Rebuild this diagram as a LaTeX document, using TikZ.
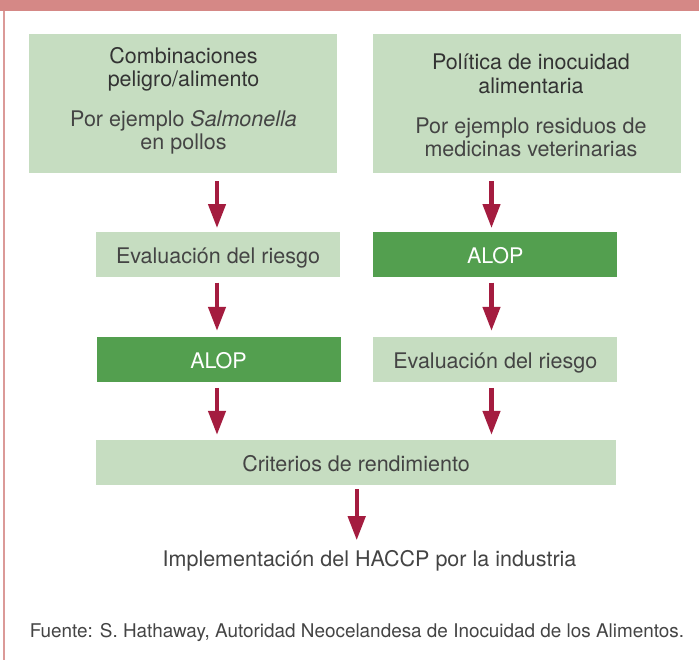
\documentclass[tikz,border=0pt]{standalone}
\usepackage{fontspec}
\setmainfont{TeX Gyre Heros}
\usetikzlibrary{arrows.meta,calc}
\definecolor{band}{HTML}{D58886}
\definecolor{lgreen}{HTML}{C6DDC1}
\definecolor{dgreen}{HTML}{539F4F}
\definecolor{arrowred}{HTML}{A41C3F}
\definecolor{txtgray}{HTML}{444444}
\definecolor{titlegray}{HTML}{333333}
\tikzset{
  lbox/.style={fill=lgreen, draw=none, inner sep=0pt},
  dbox/.style={fill=dgreen, draw=none, inner sep=0pt, text=white},
  rowbox/.style={minimum width=244pt, minimum height=44.5pt, text height=19pt, text depth=1pt, font=\fontsize{21.5}{25}\selectfont},
  txt/.style={anchor=base, inner sep=0pt, text=txtgray, font=\fontsize{21.5}{25}\selectfont},
  ttl/.style={txt, text=titlegray},
  arr/.style={draw=arrowred, line width=4.3pt, -{Triangle[width=17pt,length=24pt]}},
}
\begin{document}
\begin{tikzpicture}[x=1pt,y=-1pt]
\useasboundingbox (0,0) rectangle (699,660);
\fill[white] (0,0) rectangle (699,660);
% frame
\fill[band] (0,0) rectangle (699,11);
\fill[band!85!white] (2.8,11) rectangle (5,660);

% top boxes
\node[lbox, minimum width=308pt, minimum height=138.7pt] (b1) at (183,103.35) {};
\node[lbox, minimum width=308pt, minimum height=138.7pt] (b2) at (527,103.35) {};
\node[ttl] (b1t1) at (183.5,63.5) {Combinaciones};
\node[ttl] (b1t2) at (183.5,86.5) {peligro/alimento};
\node[txt] (b1t3) at (183.5,127) {Por ejemplo \textit{Salmonella}};
\node[txt] (b1t4) at (183.5,150) {en pollos};
\node[ttl] (b2t1) at (531,70) {Política de inocuidad};
\node[ttl] (b2t2) at (531,93.5) {alimentaria};
\node[txt] (b2t3) at (531,133.5) {Por ejemplo residuos de};
\node[txt] (b2t4) at (531,156.5) {medicinas veterinarias};

% row 2
\node[lbox, rowbox, text=txtgray] (e1) at (218,254.5) {Evaluación del riesgo};
\node[dbox, rowbox] (a2) at (495.3,254.5) {ALOP};
% row 3
\node[dbox, rowbox] (a1) at (218.5,359.3) {ALOP};
\node[lbox, rowbox, text=txtgray] (e2) at (495.3,359.3) {Evaluación del riesgo};
% row 4
\node[lbox, rowbox, minimum width=520pt, text=txtgray] (c) at (356,462.3) {Criterios de rendimiento};

\node[txt] (impl) at (369.5,566) {Implementación del HACCP por la industria};
\node[txt, font=\fontsize{18.9}{22}\selectfont] (src) at (357,637.5) {Fuente: S. Hathaway, Autoridad Neocelandesa de Inocuidad de los Alimentos.};

% arrows
\draw[arr, shorten <=8.5pt, shorten >=4pt] ($(b1.south -| e1.north)+(-1,0)$) -- ($(e1.north)+(-1,0)$);
\draw[arr, shorten <=8.5pt, shorten >=4pt] ($(b2.south -| a2.north)+(-3.8,0)$) -- ($(a2.north)+(-3.8,0)$);
\draw[arr, shorten <=5.6pt, shorten >=6pt] ($(e1.south)+(-1,0)$) -- ($(a1.north -| e1.south)+(-1,0)$);
\draw[arr, shorten <=5.6pt, shorten >=6pt] ($(a2.south)+(-3.8,0)$) -- ($(e2.north)+(-3.8,0)$);
\draw[arr, shorten <=6pt, shorten >=5pt] ($(a1.south)+(-1.5,0)$) -- ($(c.north -| a1.south)+(-1.5,0)$);
\draw[arr, shorten <=6pt, shorten >=5pt] ($(e2.south)+(-3.8,0)$) -- ($(c.north -| e2.south)+(-3.8,0)$);
\draw[arr, shorten <=4.5pt] ($(c.south)+(0.7,0)$) -- ($(c.south |- impl.north)+(0.7,0)+(0,-9.5)$);
\end{tikzpicture}
\end{document}
